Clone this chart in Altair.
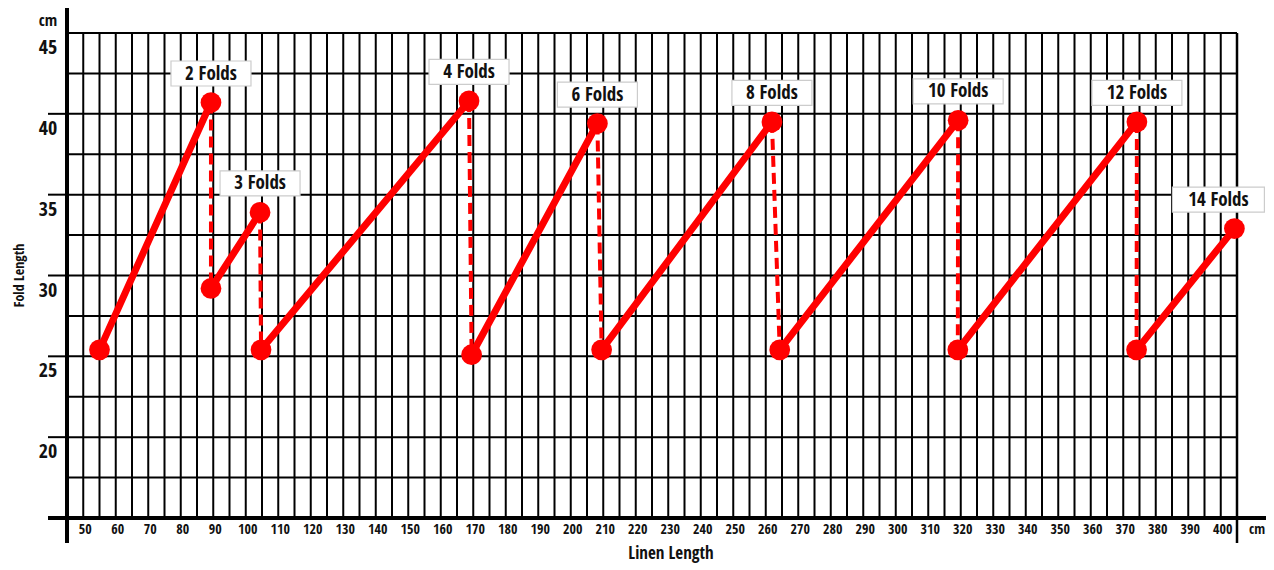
import altair as alt
import pandas as pd

# ---- data ----
labels = ["2 Folds", "3 Folds", "4 Folds", "6 Folds", "8 Folds", "10 Folds", "12 Folds", "14 Folds"]
low_x = [55.0, 89.3, 104.7, 169.5, 209.5, 264.3, 319.1, 374.1]
low_y = [25.4, 29.2, 25.4, 25.1, 25.4, 25.4, 25.4, 25.4]
high_x = [89.3, 104.4, 168.7, 208.2, 261.9, 319.2, 374.2, 404.2]
high_y = [40.7, 33.9, 40.8, 39.4, 39.5, 39.6, 39.5, 32.9]

x_grid = [45 + 5 * i for i in range(73)]          # 45 .. 405
y_grid = [15 + 2.5 * i for i in range(13)]        # 15 .. 45
x_labels = [50 + 10 * i for i in range(36)]       # 50 .. 400
y_labels = [20, 25, 30, 35, 40, 45]
y_ticks = [15, 20, 25, 30, 35, 40]

W, H = 1170, 485
FONT = "'Open Sans Condensed', 'Liberation Sans Narrow', 'DejaVu Sans Condensed', 'Open Sans', sans-serif"
RED = "#ff0000"
INK = "#111111"

solid = pd.DataFrame({"x": low_x, "y": low_y, "x2": high_x, "y2": high_y})
dashed = pd.DataFrame({"x": high_x[:-1], "y": high_y[:-1], "x2": low_x[1:], "y2": low_y[1:]})
pts = pd.DataFrame({"x": low_x + high_x, "y": low_y + high_y})
lab = pd.DataFrame({"x": high_x, "y": high_y, "label": labels})

xs = alt.Scale(domain=[45, 405], nice=False, zero=False)
ys = alt.Scale(domain=[15, 45], nice=False, zero=False)


def X(f="x:Q"):
    return alt.X(f, scale=xs, axis=None)


def Y(f="y:Q"):
    return alt.Y(f, scale=ys, axis=None)


one = pd.DataFrame({"a": [0]})

# grid
vgrid = alt.Chart(pd.DataFrame({"v": x_grid})).mark_rule(color="black", strokeWidth=2).encode(
    x=X("v:Q"), y=alt.value(0), y2=alt.value(H))
hgrid = alt.Chart(pd.DataFrame({"v": y_grid})).mark_rule(color="black", strokeWidth=2).encode(
    y=Y("v:Q"), x=alt.value(0), x2=alt.value(W))
ytick_rules = alt.Chart(pd.DataFrame({"v": y_ticks})).mark_rule(color="black", strokeWidth=2).encode(
    y=Y("v:Q"), x=alt.value(-19), x2=alt.value(0))

# axis lines
left_axis = alt.Chart(one).mark_rule(color="black", strokeWidth=4).encode(
    x=alt.value(0), y=alt.value(-25), y2=alt.value(H + 25))
bottom_axis = alt.Chart(one).mark_rule(color="black", strokeWidth=4).encode(
    y=alt.value(H), x=alt.value(-19), x2=alt.value(W + 29))
right_edge = alt.Chart(one).mark_rule(color="black", strokeWidth=2.5).encode(
    x=alt.value(W), y=alt.value(0), y2=alt.value(H + 25))

# tick labels
xlab = alt.Chart(pd.DataFrame({"v": x_labels})).mark_text(
    font=FONT, fontSize=14, fontWeight="bold", color=INK, align="center", baseline="middle", dx=2).encode(
    x=X("v:Q"), y=alt.value(H + 12), text="v:Q")
ylab = alt.Chart(pd.DataFrame({"v": y_labels})).mark_text(
    font=FONT, fontSize=20, fontWeight="bold", color=INK, align="center", baseline="middle", dy=15).encode(
    y=Y("v:Q"), x=alt.value(-19), text="v:Q")

# titles / units
def txt(s, x, y, size, angle=0):
    return alt.Chart(one).mark_text(text=s, font=FONT, fontSize=size, fontWeight="bold", color=INK,
                                    align="center", baseline="middle", angle=angle).encode(
        x=alt.value(x), y=alt.value(y))


cm_y = txt("cm", -19, -12, 16)
cm_x = txt("cm", W + 20, H + 12, 14)
xtitle = txt("Linen Length", 604, H + 36, 17)
ytitle = txt("Fold Length", -47, H / 2, 14, angle=270)

# data marks
solid_l = alt.Chart(solid).mark_rule(color=RED, strokeWidth=7, strokeCap="round").encode(
    x=X(), y=Y(), x2="x2:Q", y2="y2:Q")
dashed_l = alt.Chart(dashed).mark_rule(color=RED, strokeWidth=4, strokeDash=[11, 6]).encode(
    x=X(), y=Y(), x2="x2:Q", y2="y2:Q")
dots = alt.Chart(pts).mark_circle(color=RED, size=430, opacity=1).encode(x=X(), y=Y())


def label_layers(flt, width, dx):
    src = alt.Chart(lab).transform_filter(flt)
    box = src.mark_rect(width=width, height=25, fill="white", stroke="#cccccc", strokeWidth=1.2,
                        yOffset=-29, xOffset=dx).encode(x=X(), y=Y())
    t = src.mark_text(font=FONT, fontSize=19, fontWeight="bold", color=INK,
                      align="center", baseline="middle", dy=-29, dx=dx).encode(
        x=X(), y=Y(), text="label:N")
    return [box, t]


lbl = (label_layers("length(datum.label) == 7", 80, 0)
       + label_layers("length(datum.label) == 8 && datum.label != '14 Folds'", 90, 0)
       + label_layers("datum.label == '14 Folds'", 92, -16))

chart = alt.layer(vgrid, hgrid, ytick_rules, left_axis, bottom_axis, right_edge,
                  xlab, ylab, cm_y, cm_x, xtitle, ytitle,
                  dashed_l, solid_l, dots, *lbl).properties(
    width=W, height=H,
    autosize=alt.AutoSizeParams(type="none"),
    padding={"left": 59, "top": 25, "right": 29, "bottom": 52},
).configure_view(stroke=None).configure(background="white")

chart.save("out.html", embed_options={"renderer": "svg", "actions": False})
